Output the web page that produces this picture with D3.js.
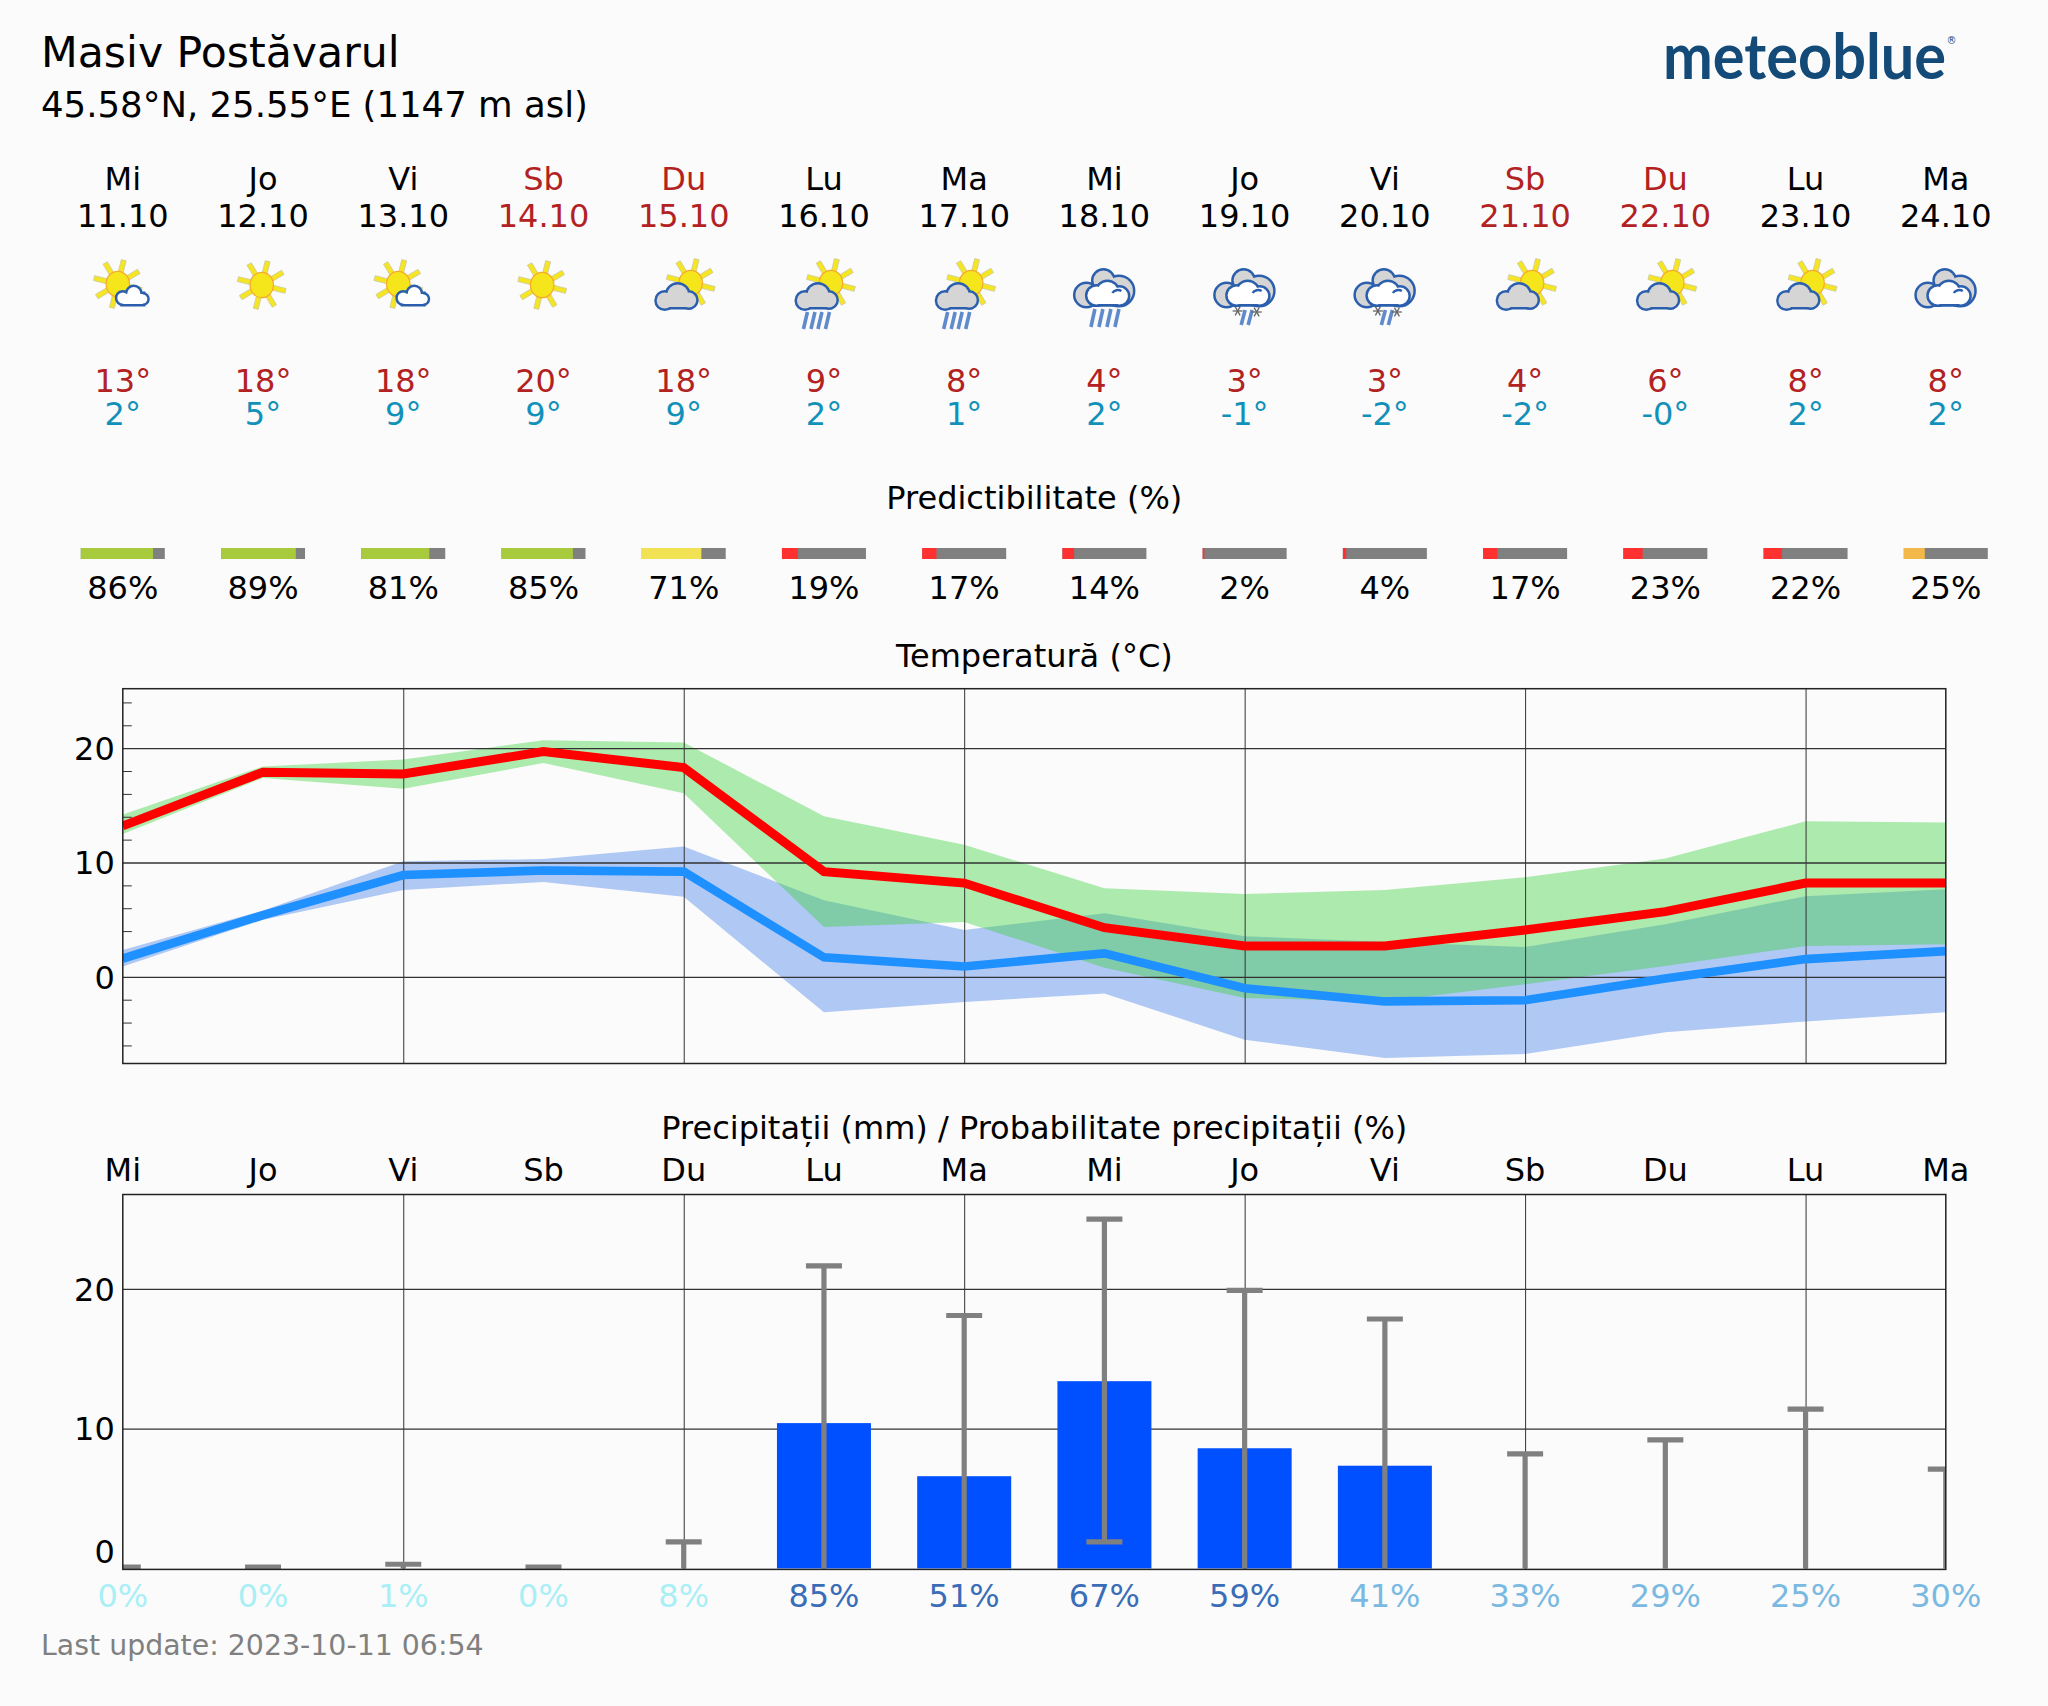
<!DOCTYPE html>
<html><head><meta charset="utf-8">
<script src="https://cdn.jsdelivr.net/npm/d3@7"></script>
<style>html,body{margin:0;padding:0;background:#fbfbfb}svg{display:block}text{font-family:"DejaVu Sans",sans-serif}</style>
</head><body><svg id="c" width="2048" height="1706"></svg>
<script>
const dayNames=["Mi","Jo","Vi","Sb","Du","Lu","Ma","Mi","Jo","Vi","Sb","Du","Lu","Ma"];
const dates=["11.10","12.10","13.10","14.10","15.10","16.10","17.10","18.10","19.10","20.10","21.10","22.10","23.10","24.10"];
const weekend=[3,4,10,11];
const icons=["sunSmall","sun","sunSmall","sun","sunCloud","sunRain","sunRain","bigRain","bigSnow","bigSnow","sunCloud","sunCloud","sunCloud","big"];
const maxLabels=["13°","18°","18°","20°","18°","9°","8°","4°","3°","3°","4°","6°","8°","8°"];
const minLabels=["2°","5°","9°","9°","9°","2°","1°","2°","-1°","-2°","-2°","-0°","2°","2°"];
const predict=[86,89,81,85,71,19,17,14,2,4,17,23,22,25];
const tempMax=[13.2,17.9,17.75,19.7,18.3,9.2,8.2,4.3,2.7,2.7,4.1,5.7,8.2,8.2];
const tempMaxHi=[14.2,18.4,19.0,20.7,20.5,14.05,11.55,7.75,7.25,7.6,8.7,10.35,13.6,13.5];
const tempMaxLo=[12.5,17.4,16.45,18.7,16.05,4.35,4.8,0.8,-1.85,-2.15,-0.65,0.95,2.7,2.85];
const tempMin=[1.6,5.4,8.9,9.3,9.2,1.7,0.9,2.05,-1.0,-2.15,-2.05,-0.15,1.55,2.25];
const tempMinHi=[2.35,5.8,10.1,10.3,11.4,6.7,4.1,5.55,3.55,3.05,2.6,4.6,7.05,7.65];
const tempMinLo=[0.9,5.0,7.6,8.3,7.0,-3.1,-2.2,-1.45,-5.5,-7.1,-6.75,-4.85,-3.9,-3.1];
const precip=[0,0,0,0,0,10.4,6.6,13.4,8.6,7.35,0,0,0,0];
const precipHi=[0.1,0.1,0.3,0.1,1.9,21.65,18.1,25,19.9,17.85,8.2,9.2,11.4,7.1];
const precipLo=[0,0,0,0,0,0,0,1.9,0,0,0,0,0,0];
const precipProb=[0,0,1,0,8,85,51,67,59,41,33,29,25,30];

const svg=d3.select("#c");
const FS=32;
const x=d3.scaleLinear([0,13],[122.8,1945.8]);
const days=d3.range(14);
const tx=(t,px,py,fs,fill,anchor)=>svg.append("text").attr("x",px).attr("y",py).attr("font-size",fs).attr("fill",fill||"#000").attr("text-anchor",anchor||"start").text(t);

tx("Masiv Postăvarul",41,67,42.6);
tx("45.58°N, 25.55°E (1147 m asl)",41,116.5,35.5);
// logo
svg.append("text").attr("x",1663).attr("y",79).attr("font-size",64).attr("font-weight",700).attr("fill","#134a78")
  .attr("textLength",283).attr("lengthAdjust","spacingAndGlyphs").style("font-family","Lato").text("meteoblue");
svg.append("text").attr("x",1951.5).attr("y",44).attr("font-size",10).attr("fill","#134a78").attr("text-anchor","middle").text("®");

const red="#b22222", cyan="#1191b9";
days.forEach(i=>{
  const c=weekend.includes(i)?red:"#000";
  tx(dayNames[i],x(i),190,FS,c,"middle");
  tx(dates[i],x(i),226.5,FS,c,"middle");
  tx(maxLabels[i],x(i),391.5,FS,red,"middle");
  tx(minLabels[i],x(i),424.5,FS,cyan,"middle");
});

// ---- icons
const BL="#2b5fad";
function blob(g,circles,floor,fill){
  const [x0,x1,y1]=floor;
  const lay=(sel,sw)=>{
    circles.forEach(c=>sel.append("circle").attr("cx",c[0]).attr("cy",c[1]).attr("r",c[2]).attr("fill",sw?BL:fill).attr("stroke",sw?BL:"none").attr("stroke-width",sw));
    sel.append("rect").attr("x",x0).attr("y",y1-10).attr("width",x1-x0).attr("height",10).attr("fill",sw?BL:fill).attr("stroke",sw?BL:"none").attr("stroke-width",sw);
  };
  lay(g.append("g"),5);
  lay(g.append("g"),0);
}
function sun(g,cx,cy){
  const s=g.append("g").attr("transform",`translate(${cx},${cy})`);
  d3.range(8).forEach(k=>{
    const a=(-76+45*k);
    s.append("rect").attr("x",11).attr("y",-2.5).attr("width",13.5).attr("height",5).attr("fill","#f5e523").attr("stroke","#c8c8a0").attr("stroke-width",.7).attr("transform",`rotate(${a})`);
  });
  s.append("ellipse").attr("rx",11.7).attr("ry",12.7).attr("fill","#f5e61c").attr("stroke","#f6a92f").attr("stroke-width",1.2);
}
function rain(g,xs,y0,y1){
  xs.forEach(px=>g.append("line").attr("x1",px+2.5).attr("x2",px-1.5).attr("y1",y0).attr("y2",y1).attr("stroke","#5f8acb").attr("stroke-width",3.6));
}
function snow(g,px,py){
  d3.range(3).forEach(k=>g.append("line").attr("x1",px-5).attr("x2",px+5).attr("y1",py).attr("y2",py).attr("stroke","#666").attr("stroke-width",1.3).attr("transform",`rotate(${k*60},${px},${py})`));
}
function greyCloud(g,o){
  blob(g,[[o-12,300.5,8],[o+1,295,10.5],[o+12,300,7.5]],[o-12,o+13,307],"#d5d5d5");
}
function bigCloud(g){
  blob(g,[[-18,295,11],[-1,280.5,10],[14.5,291,14]],[-18,15,304],"#d5d5d5");
  blob(g,[[-8,295.5,9],[3,292.5,10.5],[15,296,8.5]],[-8,16,304],"#fff");
  g.append("path").attr("d","M8,293 A6,5 0 0 1 17,291").attr("fill","none").attr("stroke",BL).attr("stroke-width",2.4);
}
days.forEach(i=>{
  const g=svg.append("g").attr("transform",`translate(${x(i)},0)`);
  const k=icons[i];
  if(k==="sun") sun(g,-1.3,285);
  if(k==="sunSmall"){
    sun(g,-5,284);
    blob(g,[[0,298,5.5],[11,293.5,6.5],[20,299,4.5]],[0,20,304],"#fff");
  }
  if(k==="sunCloud"||k==="sunRain"){
    sun(g,7,283);
    greyCloud(g,-7);
    if(k==="sunRain") rain(g,[-19,-11.5,-4.5,3],312,329);
  }
  if(k==="bigRain"||k==="bigSnow"||k==="big"){
    if(k==="bigRain") rain(g,[-12,-4,4,12],309,327);
    if(k==="bigSnow"){rain(g,[-2,5],310,325);snow(g,-7,311);snow(g,12,312);}
    bigCloud(g);
  }
});

// ---- predictability
const W=84,H=11,PY=548;
tx("Predictibilitate (%)",1034.3,509,FS,"#000","middle");
const pw=d3.scaleLinear([0,100],[0,W]);
const pCol=p=>p>=75?"#a7cb3d":p>=50?"#f1e253":p>=25?"#f2b94a":"#ff3030";
svg.append("g").selectAll("rect").data(days).join("rect").attr("x",i=>x(i)-W/2).attr("y",PY).attr("width",W).attr("height",H).attr("fill","#808080");
svg.append("g").selectAll("rect").data(days).join("rect").attr("x",i=>x(i)-W/2).attr("y",PY).attr("width",i=>pw(predict[i])).attr("height",H).attr("fill",i=>pCol(predict[i]));
days.forEach(i=>tx(predict[i]+"%",x(i),599,FS,"#000","middle"));

// ---- temperature
const TT=688.7,TB=1063.5;
const yT=d3.scaleLinear([-7.58,25.2],[TB,TT]);
tx("Temperatură (°C)",1034.3,667,FS,"#000","middle");
const GRID="#333";
function frame(top,bot,y,major,minor){
  const g=svg.append("g");
  g.append("g").attr("transform",`translate(0,${bot})`)
   .call(d3.axisBottom(x).tickValues([2,4,6,8,10,12]).tickSize(-(bot-top)).tickFormat(""))
   .call(s=>s.select(".domain").remove()).selectAll("line").attr("stroke",GRID).attr("stroke-width",1);
  const ax=g.append("g").attr("transform",`translate(${x(0)},0)`)
   .call(d3.axisLeft(y).tickValues(major).tickSize(-(x(13)-x(0))).tickPadding(8))
   .call(s=>s.select(".domain").remove());
  ax.selectAll("line").attr("stroke",GRID).attr("stroke-width",1.3);
  ax.selectAll("text").attr("font-size",FS).attr("fill","#000").attr("dy",".35em").style("font-family",'"DejaVu Sans"');
  if(minor.length){
    const mi=g.append("g").attr("transform",`translate(${x(0)},0)`)
      .call(d3.axisLeft(y).tickValues(minor).tickSize(-9).tickFormat(""))
      .call(s=>s.select(".domain").remove());
    mi.selectAll("line").attr("stroke",GRID).attr("stroke-width",1);
  }
  return ax;
}
const clip=(id,top,bot)=>svg.append("clipPath").attr("id",id).append("rect").attr("x",x(0)).attr("y",top).attr("width",x(13)-x(0)).attr("height",bot-top);
clip("ct",TT,TB);
const band=(hi,lo)=>d3.area().x(i=>x(i)).y0(i=>yT(lo[i])).y1(i=>yT(hi[i]))(days);
const tg=svg.append("g").attr("clip-path","url(#ct)");
tg.append("path").attr("d",band(tempMinHi,tempMinLo)).attr("fill","#6495ed").attr("fill-opacity",.5);
tg.append("path").attr("d",band(tempMaxHi,tempMaxLo)).attr("fill","#39d139").attr("fill-opacity",.4);
frame(TT,TB,yT,[0,10,20],[24,22,18,16,14,12,8,6,4,2,-2,-4,-6]);
const tl=svg.append("g").attr("clip-path","url(#ct)");
const line=v=>d3.line().x(i=>x(i)).y(i=>yT(v[i]))(days);
tl.append("path").attr("d",line(tempMax)).attr("fill","none").attr("stroke","#ff0000").attr("stroke-width",9);
tl.append("path").attr("d",line(tempMin)).attr("fill","none").attr("stroke","#1e90ff").attr("stroke-width",8.6);
svg.append("rect").attr("x",x(0)).attr("y",TT).attr("width",x(13)-x(0)).attr("height",TB-TT).attr("fill","none").attr("stroke","#222").attr("stroke-width",1.5);

// ---- precipitation
const PT=1194.5,PB=1569.4;
const yP=d3.scaleLinear([-0.07,26.76],[PB,PT]);
tx("Precipitații (mm) / Probabilitate precipitații (%)",1034.3,1139,FS,"#000","middle");
days.forEach(i=>tx(dayNames[i],x(i),1181,FS,"#000","middle"));
clip("cp",PT,PB);
const pa=frame(PT,PB,yP,[0,10,20],[]);
pa.selectAll(".tick").filter(d=>d===0).select("line").remove();
pa.selectAll(".tick").filter(d=>d===0).select("text").attr("dy","-0.2em");
const pg=svg.append("g").attr("clip-path","url(#cp)");
const BW=94;
pg.selectAll("rect.bar").data(days.filter(i=>precip[i]>0)).join("rect").attr("class","bar")
  .attr("x",i=>x(i)-BW/2).attr("width",BW).attr("y",i=>yP(precip[i])).attr("height",i=>yP(0)-yP(precip[i])).attr("fill","#0050ff");
const WH="#808080";
days.forEach(i=>{
  pg.append("line").attr("x1",x(i)).attr("x2",x(i)).attr("y1",yP(precipLo[i])).attr("y2",yP(precipHi[i])).attr("stroke",WH).attr("stroke-width",5.2);
  pg.append("line").attr("x1",x(i)-18).attr("x2",x(i)+18).attr("y1",yP(precipHi[i])).attr("y2",yP(precipHi[i])).attr("stroke",WH).attr("stroke-width",5.2);
  if(precipLo[i]>0) pg.append("line").attr("x1",x(i)-18).attr("x2",x(i)+18).attr("y1",yP(precipLo[i])).attr("y2",yP(precipLo[i])).attr("stroke",WH).attr("stroke-width",5.2);
});
svg.append("rect").attr("x",x(0)).attr("y",PT).attr("width",x(13)-x(0)).attr("height",PB-PT).attr("fill","none").attr("stroke","#222").attr("stroke-width",1.5);
const probCol=p=>p>=50?"#3a6db8":p>=25?"#7ab9e2":"#a9eff6";
days.forEach(i=>tx(precipProb[i]+"%",x(i),1607,FS,probCol(precipProb[i]),"middle"));
tx("Last update: 2023-10-11 06:54",41,1655,28.4,"#808080");
</script></body></html>
